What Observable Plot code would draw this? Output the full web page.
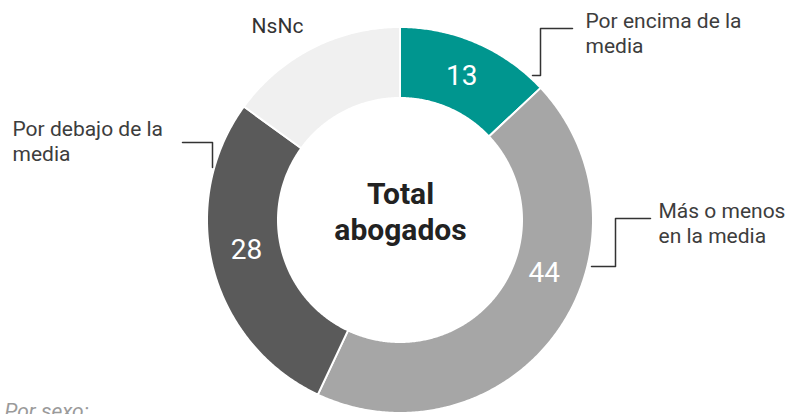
<!DOCTYPE html>
<html>
<head>
<meta charset="utf-8">
<script src="https://cdn.jsdelivr.net/npm/d3@7"></script>
<script src="https://cdn.jsdelivr.net/npm/@observablehq/plot@0.6"></script>
<style>
  html, body { margin: 0; padding: 0; background: #fff; overflow: hidden; }
  #chart svg { overflow: visible; }
</style>
</head>
<body>
<div id="chart"></div>
<script>
// ---- Data ----
const categories = ["Por encima de la media", "Más o menos en la media", "Por debajo de la media", "NsNc"];
const values = [13, 44, 28, 15];
const colors = ["#00968f", "#a6a6a6", "#5a5a5a", "#f0f0f0"];
const valueLabels = ["13", "44", "28", ""];
const labelLines = [
  ["Por encima de la", "media"],
  ["Más o menos", "en la media"],
  ["Por debajo de la", "media"],
  ["NsNc"]
];
const centerLines = ["Total", "abogados"];
const footnote = "Por sexo:";

// ---- Layout (not data) ----
const W = 793, H = 414;
const cx = 400, cy = 220, rOuter = 193, rInner = 122;
const valueLabelAngle = [23, 110, 259, null];
const valueLabelRadius = [157, 153, 157, 157];
const labelPos = [
  {x: 585, y: 27, anchor: "start"},
  {x: 658, y: 217, anchor: "start"},
  {x: 12, y: 135, anchor: "start"},
  {x: 277, y: 32, anchor: "middle"}
];
const lineGap = 25.5;
const leaders = [
  [[572, 28], [540, 28], [540, 75], [532, 75]],
  [[650, 218], [615, 218], [615, 266], [591, 266]],
  [[182, 142], [212, 142], [212, 167]],
  null
];

// ---- Build geometry from data ----
const total = d3.sum(values);
const pt = (deg, r) => {
  const a = deg * Math.PI / 180;
  return [cx + r * Math.sin(a), cy - r * Math.cos(a)];
};
const arcRows = [];
let acc = 0;
values.forEach((v, i) => {
  const a0 = acc / total * 360, a1 = (acc + v) / total * 360;
  acc += v;
  const n = Math.max(2, Math.ceil((a1 - a0) / 0.5));
  for (let k = 0; k <= n; k++) {
    const a = a0 + (a1 - a0) * k / n;
    const [xo, yo] = pt(a, rOuter);
    const [xi, yi] = pt(a, rInner);
    arcRows.push({cat: categories[i], xo, yo, xi, yi});
  }
});

const valueRows = values.map((v, i) => {
  if (!valueLabels[i]) return null;
  const [x, y] = pt(valueLabelAngle[i], valueLabelRadius[i]);
  return {x, y, text: valueLabels[i]};
}).filter(Boolean);

const labelRows = [];
labelLines.forEach((lines, i) => {
  lines.forEach((t, j) => labelRows.push({
    x: labelPos[i].x, y: labelPos[i].y + j * lineGap, text: t, anchor: labelPos[i].anchor
  }));
});

const leaderRows = [];
leaders.forEach((l, i) => { if (l) l.forEach(([x, y]) => leaderRows.push({cat: categories[i], x, y})); });

const centerRows = centerLines.map((t, j) => ({x: cx, y: 203 + j * 36, text: t}));

const chart = Plot.plot({
  width: W,
  height: H,
  margin: 0,
  style: {fontFamily: "Roboto, sans-serif", background: "#fff"},
  x: {domain: [0, W], range: [0, W], axis: null},
  y: {domain: [0, H], range: [0, H], axis: null},
  color: {domain: categories, range: colors},
  marks: [
    Plot.area(arcRows, {x1: "xo", y1: "yo", x2: "xi", y2: "yi", z: "cat", fill: "cat", stroke: "#fff", strokeWidth: 2}),
    Plot.text(valueRows, {x: "x", y: "y", text: "text", fill: "#fff", fontSize: 28, textAnchor: "middle", lineAnchor: "middle"}),
    Plot.text(centerRows, {x: "x", y: "y", text: "text", fill: "#222", fontSize: 30, fontWeight: "bold", textAnchor: "middle", lineAnchor: "bottom"}),
    Plot.line(leaderRows, {x: "x", y: "y", z: "cat", stroke: "#333", strokeWidth: 1.5, curve: "linear"}),
    Plot.text(labelRows.filter(d => d.anchor === "start"), {x: "x", y: "y", text: "text", fill: "#3d3d3d", fontSize: 21, textAnchor: "start", lineAnchor: "bottom"}),
    Plot.text(labelRows.filter(d => d.anchor === "middle"), {x: "x", y: "y", text: "text", fill: "#333", fontSize: 21, textAnchor: "middle", lineAnchor: "bottom"}),
    Plot.text([{x: 4, y: 417, text: footnote}], {x: "x", y: "y", text: "text", fill: "#9a9a9a", fontSize: 21, fontStyle: "italic", textAnchor: "start", lineAnchor: "bottom"})
  ]
});
document.getElementById("chart").appendChild(chart);
</script>
</body>
</html>
